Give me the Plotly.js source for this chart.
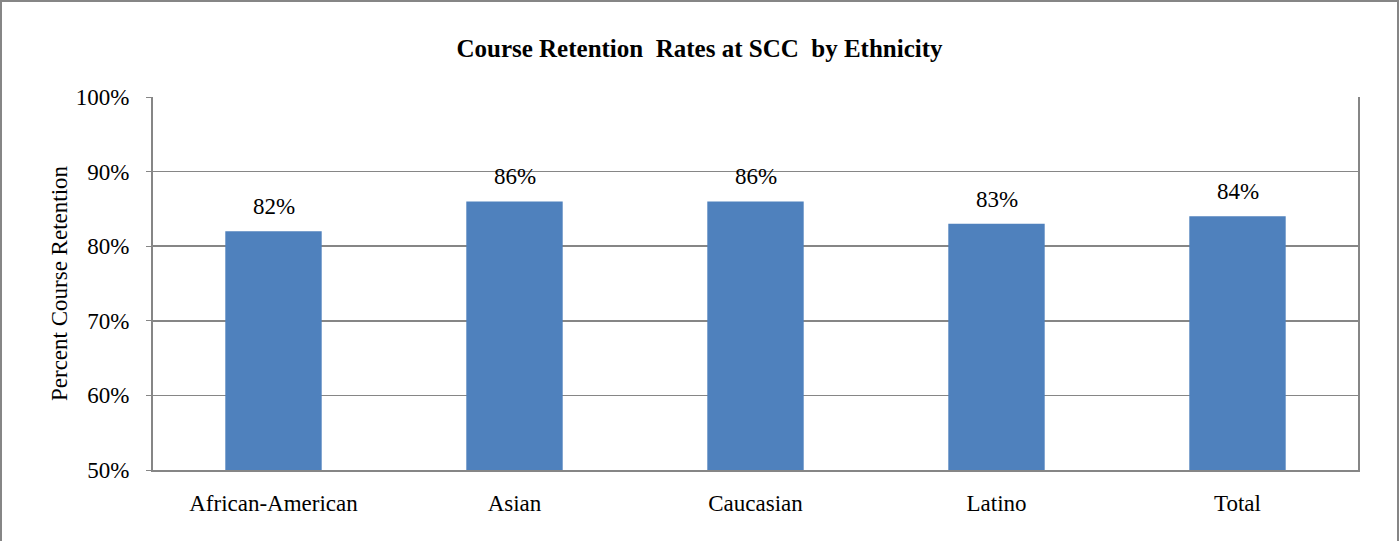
<!DOCTYPE html>
<html><head><meta charset="utf-8">
<script src="https://cdn.plot.ly/plotly-3.0.1.min.js"></script>
<style>
html,body{margin:0;padding:0;background:#fff;}
#chart{width:1399px;height:541px;box-sizing:border-box;border-left:2px solid #868686;border-top:2px solid #868686;border-right:2px solid #868686;position:relative;}
</style></head>
<body>
<div id="chart"></div>
<script>
const categories = ["African-American","Asian","Caucasian","Latino","Total"];
const retention = [0.82,0.86,0.86,0.83,0.84];
const labels = ["82%","86%","86%","83%","84%"];

const font = '"Liberation Serif", serif';
const trace = {
  type:'bar', x:categories, y:retention,
  marker:{color:'#4F81BD'},
  hoverinfo:'none'
};
const annotations = categories.map((c,i)=>({
  x:c, y:retention[i], text:labels[i], showarrow:false,
  yanchor:'bottom', yshift:10, font:{family:font,size:23,color:'#000'}
}));
const layout = {
  width:1395, height:539,
  margin:{l:151,r:39,t:95,b:71},
  paper_bgcolor:'#fff', plot_bgcolor:'#fff',
  showlegend:false,
  bargap:0.6,
  title:{text:'<b>Course Retention  Rates at SCC  by Ethnicity</b>', x:0.5, xanchor:'center', y:0.915, yanchor:'middle', font:{family:font,size:25,color:'#000'}},
  xaxis:{type:'category', showline:true, linecolor:'#868686', linewidth:2, mirror:false,
    ticks:'', tickfont:{family:font,size:23,color:'#000'}, ticklabelstandoff:11, showgrid:false},
  yaxis:{range:[0.5,1.0], dtick:0.1, tickformat:'.0%', showline:true, linecolor:'#868686', linewidth:2,
    mirror:true, gridcolor:'#868686', gridwidth:1.5, ticks:'outside', ticklen:5, tickcolor:'#868686',
    tickfont:{family:font,size:23,color:'#000'}, ticklabelstandoff:12, zeroline:false,
    title:{text:'Percent Course Retention', font:{family:font,size:23,color:'#000'}, standoff:2}},
  annotations:annotations
};
Plotly.newPlot('chart',[trace],layout,{displayModeBar:false,staticPlot:true});
</script>
</body></html>
